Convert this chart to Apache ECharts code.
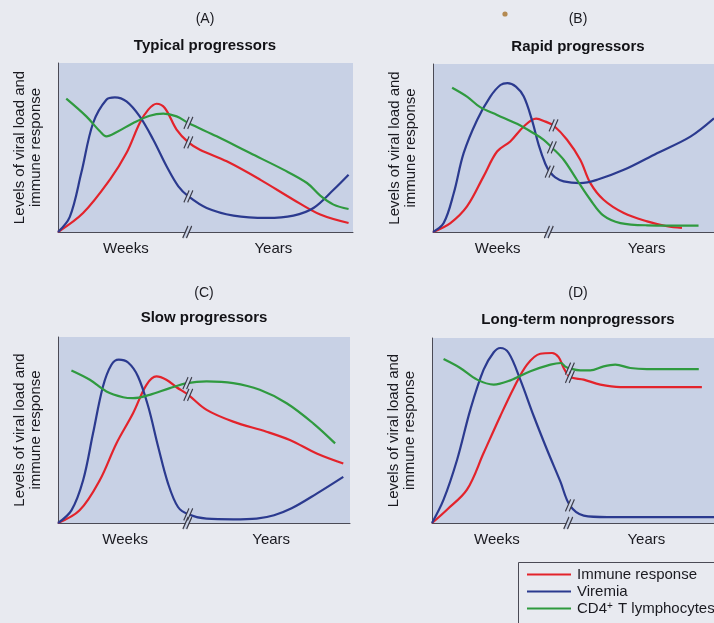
<!DOCTYPE html>
<html>
<head>
<meta charset="utf-8">
<script src="https://cdn.jsdelivr.net/npm/echarts@6/dist/echarts.min.js"></script>
<style>
  html, body { margin: 0; padding: 0; background: #e8eaf0; }
  #chart { width: 714px; height: 623px; }
</style>
</head>
<body>
<div id="chart"></div>
<script>
// Course of HIV infection in four patient groups: viremia, immune response and CD4+ T cells.
// Each curve is a list of [time position (0-100), level (0-100)] points.

const panelLetters = ['(A)', '(B)', '(C)', '(D)'];
const panelTitles = ['Typical progressors', 'Rapid progressors', 'Slow progressors', 'Long-term nonprogressors'];
const timeLabels = ['Weeks', 'Years'];
const seriesNames = ['Immune response', 'Viremia', 'CD4+ T lymphocytes'];

// (A) Typical progressors
const typicalImmune = [[0,0],[8.5,11.2],[17.6,31],[23.2,46.7],[27.7,64.5],[30.6,72.4],[33.4,75.9],[36.2,73.4],[40.2,60.6],[44.2,53],[48.1,48.7],[57.2,41.8],[68.5,31],[79.8,19.1],[88.9,10.3],[98.5,5.3]];
const typicalViremia = [[0,0],[4,9],[7.9,35],[11.9,64.5],[16.4,78.3],[19.3,79.7],[23.2,77.3],[27.7,68.4],[32.3,54.6],[36.8,38.9],[40.8,27],[44.2,21.1],[50.4,14.2],[59.5,9.7],[70.8,8.3],[79.8,9.7],[86.6,14.2],[93.4,25],[98.5,33.9]];
const typicalCd4 = [[2.8,78.9],[9.6,68.4],[14.2,59.6],[16.4,56.6],[19.8,59],[25.5,64.5],[31.1,68.8],[35.7,70],[40.2,68.4],[44.2,64.5],[53.8,56.6],[65.1,46.7],[76.4,36.9],[84.4,29],[88.9,21.5],[93.4,16.2],[98.5,13.6]];
const typicalBreaks = [[44.2,64.5],[44.2,53],[44.2,21.1],[43.8,0]];

// (B) Rapid progressors
const rapidImmune = [[0,0],[6.2,5.3],[12.1,15.2],[18,33.1],[22.8,47.9],[27.5,53.9],[32.3,62.8],[36.7,67.5],[40,65.7],[42.9,63.4],[47.7,54.9],[52.4,43],[56,29.1],[60.7,19.2],[67.9,11.3],[76.2,6.3],[83.3,3.4],[88.6,2.4]];
const rapidViremia = [[0,0],[3.8,5.3],[7.4,23.2],[10.9,46.9],[15.7,66.7],[20.4,80.6],[24,87.5],[26.5,88.6],[29.5,86.5],[32.3,80.6],[35.2,66.7],[37.6,51.9],[40,40.5],[41.5,36],[43.5,32.5],[46.5,30.1],[52.4,29.1],[58.4,31.1],[67.9,37],[79.7,46.9],[91.6,56.8],[100,67.7]];
const rapidCd4 = [[6.8,85.9],[12.1,80.6],[16.8,74.3],[22.8,69.7],[29.9,64.4],[35.8,58.8],[39.4,54.9],[42.3,50.3],[46.5,43],[51.2,31.1],[56,19.2],[60.7,9.7],[66.7,5.3],[76.2,4],[94.5,3.8]];
const rapidBreaks = [[42.9,63.4],[42.3,50.3],[41.5,36],[41.2,0]];

// (C) Slow progressors
const slowImmune = [[0,0],[7.4,6.8],[14.3,23],[20,42.8],[25.7,59],[30.3,74.3],[33.7,78.8],[37.1,77],[40.6,73],[44.6,68.9],[50.9,60.8],[60,54.5],[71.4,49.1],[79.4,44.6],[88.6,37.4],[97.7,32]];
const slowViremia = [[0,0],[4.6,6.8],[8.6,23],[12,48.2],[15.4,73.4],[18.3,85.1],[20.8,87.8],[24,86.3],[27.4,78.8],[30.9,62.6],[34.3,41],[37.7,21.2],[41.1,8.6],[44.6,4.7],[50.9,2.3],[60,2],[68,2.4],[74,4.2],[80,7.9],[88.6,15.8],[97.7,24.8]];
const slowCd4 = [[4.6,82],[10.9,77],[16.6,70.7],[22.3,67.6],[25.7,67.1],[31.4,68.9],[38.3,72.5],[44.3,75.2],[50.9,76.1],[60,75.2],[69.1,71.6],[78.3,64.4],[87.4,53.6],[94.9,42.8]];
const slowBreaks = [[44.3,75.2],[44.6,68.9],[44.6,4.7],[44.3,0]];

// (D) Long-term nonprogressors
const nonprogImmune = [[0,0],[5.3,7.2],[12.4,18],[18.3,37.8],[24.2,57.7],[29,73],[33.7,85.6],[38.4,91.5],[42.6,91.9],[44.9,89.7],[46.7,83.8],[48.9,79],[53.8,77.5],[59.7,74.8],[66.8,73.5],[95.7,73.5]];
const nonprogViremia = [[0,0],[4.1,12.6],[8.9,34.2],[13.6,61.3],[18.3,82.9],[21.9,92.3],[24.2,94.6],[27.2,91.9],[31.3,77.5],[36.1,57.7],[40.8,39.6],[45.5,22.5],[48.9,9.5],[53.8,4],[62.1,3.2],[100,3.2]];
const nonprogCd4 = [[4.1,88.6],[10,83.8],[16,77.5],[21.9,74.8],[27.8,77.1],[34.9,82],[42,85.6],[45.7,86.5],[47.3,84.5],[48.9,83.5],[52.6,82.5],[56.1,82.5],[60.9,84.7],[65,85.6],[70.3,83.8],[76.2,83.2],[94.6,83.2]];
const nonprogBreaks = [[48.9,83.5],[48.9,79],[48.9,9.5],[48.3,0]];

// where the two time labels sit on each panel's axis
const timeLabelPosLeft = [23, 73];
const timeLabelPosRight = [23, 76];

const panels = [
  { immune: typicalImmune, viremia: typicalViremia, cd4: typicalCd4, breaks: typicalBreaks,
    grid: { left: 58, top: 63, width: 295, height: 169 }, labelPos: timeLabelPosLeft, cx: 205, letterY: 19, titleY: 46 },
  { immune: rapidImmune, viremia: rapidViremia, cd4: rapidCd4, breaks: rapidBreaks,
    grid: { left: 433, top: 64, right: 0, height: 168 }, labelPos: timeLabelPosRight, cx: 578, letterY: 19, titleY: 47 },
  { immune: slowImmune, viremia: slowViremia, cd4: slowCd4, breaks: slowBreaks,
    grid: { left: 58, top: 337, width: 292, height: 186 }, labelPos: timeLabelPosLeft, cx: 204, letterY: 293, titleY: 318 },
  { immune: nonprogImmune, viremia: nonprogViremia, cd4: nonprogCd4, breaks: nonprogBreaks,
    grid: { left: 432, top: 338, right: 0, height: 185 }, labelPos: timeLabelPosRight, cx: 578, letterY: 293, titleY: 320 }
];

const RED = '#e3232b', BLUE = '#2b3a8f', GREEN = '#2f9a3f';
const PLOT_BG = '#c8d1e5';
const FONT = '"Liberation Sans", Arial, Helvetica, sans-serif';

const grids = [], xAxes = [], yAxes = [], series = [], graphics = [];

panels.forEach((p, i) => {
  grids.push(Object.assign({ show: true, backgroundColor: PLOT_BG, borderWidth: 0 }, p.grid));
  xAxes.push({
    gridIndex: i, type: 'value', min: 0, max: 100,
    axisLine: { show: true, onZero: false, lineStyle: { color: '#4a4a55', width: 1 } },
    axisTick: { show: false }, splitLine: { show: false },
    axisLabel: {
      show: true, customValues: p.labelPos, margin: 9,
      color: '#1a1a20', fontSize: 15, fontFamily: FONT,
      formatter: (v) => timeLabels[p.labelPos.indexOf(v)] || ''
    }
  });
  yAxes.push({
    gridIndex: i, type: 'value', min: 0, max: 100,
    axisLine: { show: true, lineStyle: { color: '#4a4a55', width: 1 } },
    axisTick: { show: false }, axisLabel: { show: false }, splitLine: { show: false },
    name: 'Levels of viral load and\nimmune response',
    nameLocation: 'middle', nameRotate: 90, nameGap: 14,
    nameTextStyle: { color: '#1a1a20', fontSize: 15, lineHeight: 16, fontFamily: FONT }
  });

  const lineSeries = (name, data, color) => ({
    name, type: 'line', xAxisIndex: i, yAxisIndex: i, data,
    smooth: 0.35, showSymbol: false, silent: true, z: 2,
    lineStyle: { color, width: 2.2 }, itemStyle: { color }
  });
  series.push(lineSeries(seriesNames[0], p.immune, RED));
  series.push(lineSeries(seriesNames[1], p.viremia, BLUE));
  series.push(lineSeries(seriesNames[2], p.cd4, GREEN));

  // break marks "//" : a background-coloured gap, then two slanted strokes
  series.push({
    type: 'scatter', xAxisIndex: i, yAxisIndex: i, data: p.breaks, clip: false, silent: true, z: 5,
    symbol: 'path://M0,20 L5,20 L12,0 L7,0 Z', symbolSize: [8, 12],
    itemStyle: { color: PLOT_BG, opacity: 1 }
  });
  series.push({
    type: 'scatter', xAxisIndex: i, yAxisIndex: i, data: p.breaks, clip: false, silent: true, z: 6,
    symbol: 'path://M0,20 L7,0 M5,20 L12,0', symbolSize: [9, 12],
    itemStyle: { color: 'rgba(0,0,0,0)', borderColor: '#3c3c48', borderWidth: 1.3, opacity: 1 }
  });

  graphics.push({
    type: 'text', x: p.cx, y: p.letterY, silent: true,
    style: { text: panelLetters[i], textAlign: 'center', textVerticalAlign: 'middle',
             font: '14px ' + FONT, fill: '#1a1a20' }
  });
  graphics.push({
    type: 'text', x: p.cx, y: p.titleY, silent: true,
    style: { text: panelTitles[i], textAlign: 'center', textVerticalAlign: 'middle',
             font: 'bold 15px ' + FONT, fill: '#121216' }
  });
});

// legend frame
graphics.push({
  type: 'rect', silent: true, z: -1,
  shape: { x: 518.5, y: 562.5, width: 260, height: 120 },
  style: { fill: '#e8eaf0', stroke: '#4a4a55', lineWidth: 1 }
});
// small speck on the page
graphics.push({
  type: 'circle', silent: true,
  shape: { cx: 505, cy: 14, r: 2.6 },
  style: { fill: '#b48a52' }
});

const chart = echarts.init(document.getElementById('chart'), null, { renderer: 'canvas' });
chart.setOption({
  backgroundColor: '#e8eaf0',
  animation: false,
  grid: grids,
  xAxis: xAxes,
  yAxis: yAxes,
  series: series,
  graphic: graphics,
  legend: {
    data: seriesNames, orient: 'vertical', left: 527, top: 567,
    icon: 'rect', itemWidth: 44, itemHeight: 2, itemGap: 2, padding: 0,
    selectedMode: false,
    textStyle: {
      color: '#1a1a20', fontSize: 15, lineHeight: 15, fontFamily: FONT, padding: [0, 0, 0, 1],
      rich: {
        n: { fontSize: 15, fontFamily: FONT, color: '#1a1a20', lineHeight: 15 },
        s: { fontSize: 10, fontFamily: FONT, color: '#1a1a20', lineHeight: 15, verticalAlign: 'top', padding: [0, 1, 6, 0] }
      }
    },
    formatter: (name) => name === 'CD4+ T lymphocytes' ? '{n|CD4}{s|+}{n| T lymphocytes}' : name
  }
});
</script>
</body>
</html>
